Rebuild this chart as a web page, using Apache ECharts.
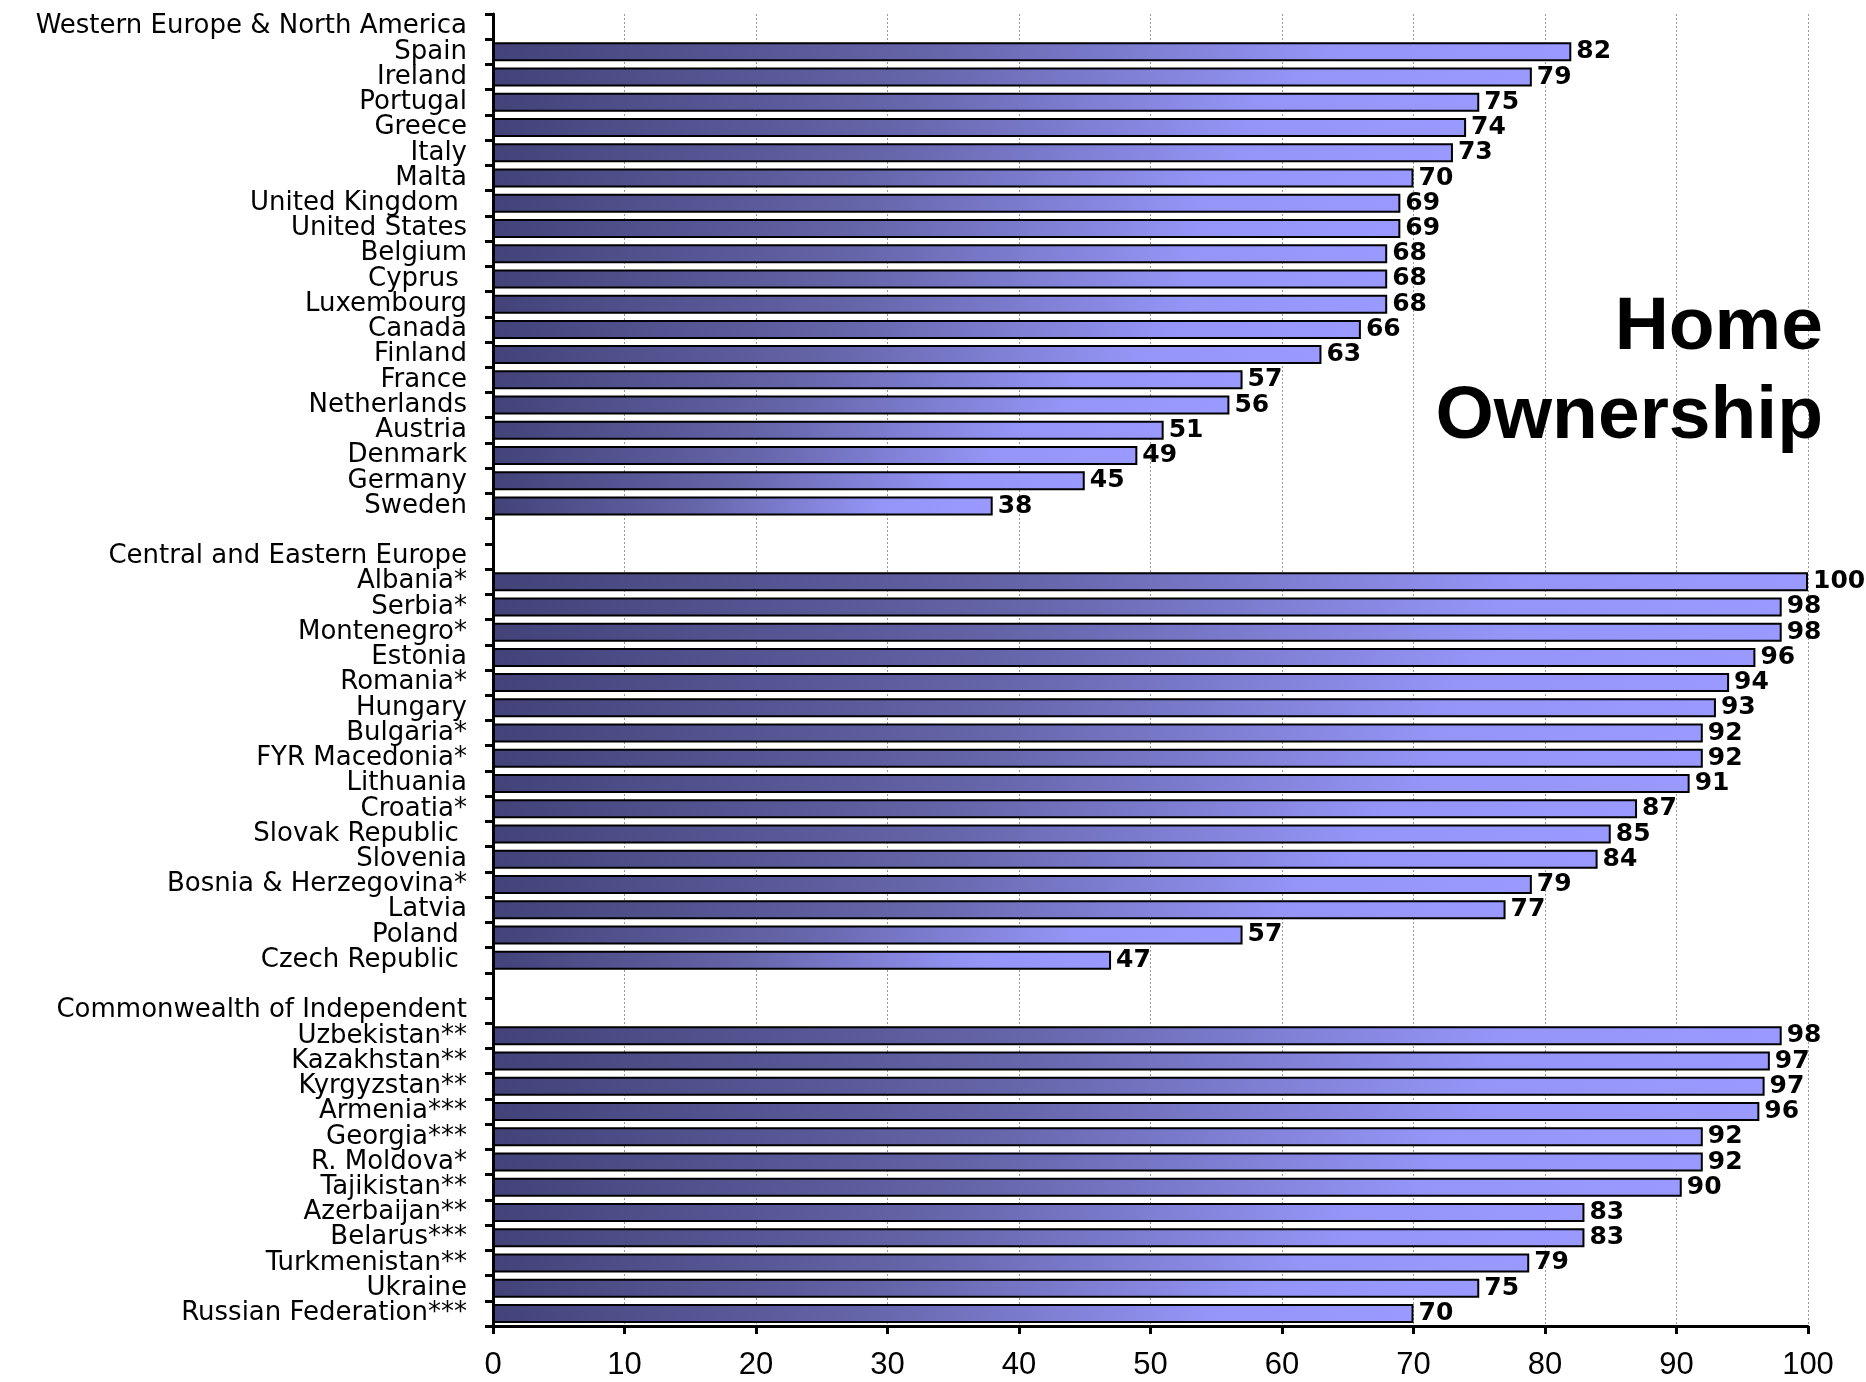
<!DOCTYPE html>
<html>
<head>
    <meta charset="utf-8">
    <title>Home Ownership</title>
    <script src="https://cdn.jsdelivr.net/npm/echarts@6/dist/echarts.min.js"></script>
    <style>
        html, body { margin: 0; padding: 0; background: #fff; }
    </style>
</head>
<body>
    <div id="chart" style="width: 1866px;height:1382px;"></div>
    <script type="text/javascript">
        // group headers
        var westTitle = 'Western Europe & North America';
        var ceeTitle = 'Central and Eastern Europe';
        var cisTitle = 'Commonwealth of Independent';

        var westNames = ['Spain', 'Ireland', 'Portugal', 'Greece', 'Italy', 'Malta', 'United Kingdom ',
            'United States', 'Belgium', 'Cyprus ', 'Luxembourg', 'Canada', 'Finland', 'France',
            'Netherlands', 'Austria', 'Denmark', 'Germany', 'Sweden'];
        var westValues = [82, 79, 75, 74, 73, 70, 69, 69, 68, 68, 68, 66, 63, 57, 56, 51, 49, 45, 38];

        var ceeNames = ['Albania*', 'Serbia*', 'Montenegro*', 'Estonia', 'Romania*', 'Hungary', 'Bulgaria*',
            'FYR Macedonia*', 'Lithuania', 'Croatia*', 'Slovak Republic ', 'Slovenia',
            'Bosnia & Herzegovina*', 'Latvia', 'Poland ', 'Czech Republic '];
        var ceeValues = [100, 98, 98, 96, 94, 93, 92, 92, 91, 87, 85, 84, 79, 77, 57, 47];

        var cisNames = ['Uzbekistan**', 'Kazakhstan**', 'Kyrgyzstan**', 'Armenia***', 'Georgia***',
            'R. Moldova*', 'Tajikistan**', 'Azerbaijan**', 'Belarus***', 'Turkmenistan**', 'Ukraine',
            'Russian Federation***'];
        var cisValues = [98, 97.1, 96.7, 96.3, 92, 92, 90.4, 83, 83, 78.8, 75, 70];

        var xTicks = [0, 10, 20, 30, 40, 50, 60, 70, 80, 90, 100];

        // rows: header, countries, blank spacer ...
        var categories = [westTitle].concat(westNames, [' '], [ceeTitle], ceeNames, ['  '], [cisTitle], cisNames);
        var values = [null].concat(westValues, [null, null], ceeValues, [null, null], cisValues);

        var myChart = echarts.init(document.getElementById('chart'));

        var barFill = new echarts.graphic.LinearGradient(0, 0, 1, 0, [
            { offset: 0, color: '#43437a' },
            { offset: 0.4, color: '#6464a8' },
            { offset: 0.78, color: '#9595f8' },
            { offset: 1, color: '#9999ff' }
        ]);

        var option = {
            animation: false,
            backgroundColor: '#fff',
            title: {
                text: 'Home\nOwnership',
                left: 1818,
                top: 279,
                textAlign: 'right',
                textStyle: {
                    fontFamily: 'Liberation Sans',
                    fontSize: 75,
                    fontWeight: 'bold',
                    lineHeight: 89,
                    color: '#000'
                }
            },
            grid: {
                left: 493,
                right: 58,
                top: 14,
                bottom: 56,
                containLabel: false,
                outerBoundsMode: 'none'
            },
            xAxis: {
                type: 'value',
                min: xTicks[0],
                max: xTicks[xTicks.length - 1],
                interval: 10,
                axisLine: { show: true, lineStyle: { color: '#000', width: 3 } },
                axisTick: { show: true, length: 8, lineStyle: { color: '#000', width: 3 } },
                axisLabel: {
                    color: '#000',
                    fontFamily: '"Liberation Sans Narrow", "Liberation Sans"',
                    fontSize: 31,
                    margin: 24,
                    showMinLabel: true,
                    showMaxLabel: true
                },
                splitLine: {
                    show: true,
                    lineStyle: { color: '#999', width: 1, type: [2, 2] }
                }
            },
            yAxis: {
                type: 'category',
                inverse: true,
                data: categories,
                axisLine: { show: true, lineStyle: { color: '#000', width: 3 } },
                axisTick: { show: true, interval: 0, length: 8, lineStyle: { color: '#000', width: 3 } },
                axisLabel: {
                    interval: 0,
                    color: '#000',
                    fontFamily: 'DejaVu Sans',
                    fontSize: 26,
                    margin: 26
                }
            },
            series: [
                {
                    type: 'bar',
                    data: values,
                    barWidth: 19,
                    itemStyle: {
                        color: barFill,
                        borderColor: '#000',
                        borderWidth: 2
                    },
                    label: {
                        show: true,
                        position: 'right',
                        distance: 5,
                        color: '#000',
                        fontFamily: 'DejaVu Sans',
                        fontWeight: 'bold',
                        fontSize: 25,
                        formatter: function (p) {
                            return p.value == null ? '' : Math.round(p.value);
                        }
                    }
                }
            ]
        };

        myChart.setOption(option);
    </script>
</body>
</html>
